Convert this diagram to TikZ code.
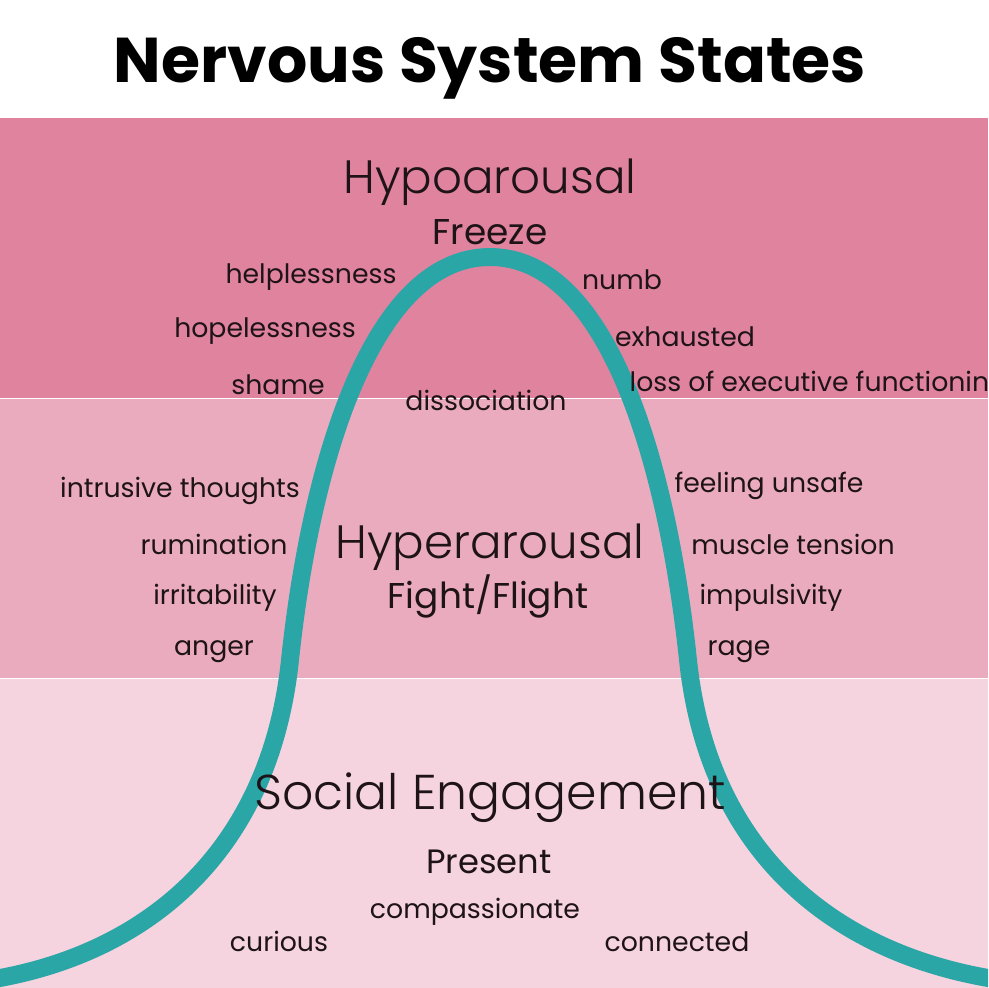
\documentclass[tikz,border=0pt]{standalone}
\usepackage{fontspec}
\setmainfont{Poppins}
\newfontfamily\headfont{Poppins}[UprightFont=* Light]
\usetikzlibrary{positioning}

\definecolor{hypoband}{HTML}{E0839F}
\definecolor{hyperband}{HTML}{EBABBF}
\definecolor{socialband}{HTML}{F5D3DF}
\definecolor{curveteal}{HTML}{2AA6A6}
\definecolor{inktext}{HTML}{1E1418}

\begin{document}
\begin{tikzpicture}[
  x=0.01cm, y=-0.01cm,
  word/.style={text=inktext, inner sep=0pt, yshift=-1pt, font=\fontsize{7.6}{9}\selectfont},
  statehead/.style={text=inktext, inner sep=0pt, yshift=-1.3pt, font=\headfont\fontsize{13.3}{16}\selectfont},
  statesub/.style={text=inktext, inner sep=0pt, yshift=-0.8pt, font=\fontsize{10.2}{12}\selectfont}
]
% -------------------------------------------------------------------------
% BACKGROUND BANDS
% -------------------------------------------------------------------------
\useasboundingbox (0,0) rectangle (988,988);
\clip (0,0) rectangle (988,988);
\fill[white] (0,0) rectangle (988,988);
\fill[hypoband] (0,118) rectangle (988,397.5);
\fill[hyperband] (0,398.5) rectangle (988,677.5);
\fill[socialband] (0,678.5) rectangle (988,988);

% -------------------------------------------------------------------------
% TITLE
% -------------------------------------------------------------------------
\node[font=\bfseries\fontsize{18}{22}\selectfont, inner sep=0pt, yshift=-1.8pt] (title) at (490,62) {Nervous System States};

% -------------------------------------------------------------------------
% BELL CURVE
% -------------------------------------------------------------------------
\coordinate (bellpeak) at (490,257);
\draw[curveteal, line width=5.1pt, line cap=round]
  (-20,982) -- (0,978) .. controls (150,950) and (270,850) .. (290,660)
  .. controls (310,470) and (370,257) .. (bellpeak)
  .. controls (610,257) and (668,470) .. (688,660)
  .. controls (708,850) and (830,950) .. (988,978) -- (1008,982);

% -------------------------------------------------------------------------
% HYPOAROUSAL
% -------------------------------------------------------------------------
\node[statehead] (hypo) at (490,178) {Hypoarousal};
\node[statesub] (freeze) at (490,229) {Freeze};
\node[word] (helpless) at (311,274) {helplessness};
\node[word] (hopeless) at (265,328) {hopelessness};
\node[word] (shame) at (278,381) {shame};
\node[word] (numb) at (622,276) {numb};
\node[word] (exhausted) at (685,333) {exhausted};
\node[word, anchor=west] (execloss) at (629,381) {loss of executive functioning};
\node[word] (dissoc) at (486,397) {dissociation};

% -------------------------------------------------------------------------
% HYPERAROUSAL
% -------------------------------------------------------------------------
\node[statehead] (hyper) at (490,543) {Hyperarousal};
\node[statesub] (fight) at (488,594) {Fight/Flight};
\node[word] (intrusive) at (180,487) {intrusive thoughts};
\node[word] (rumination) at (214,541) {rumination};
\node[word] (irritable) at (215,594) {irritability};
\node[word] (anger) at (214,648) {anger};
\node[word] (unsafe) at (769,482) {feeling unsafe};
\node[word] (tension) at (793,541) {muscle tension};
\node[word] (impulse) at (771,594) {impulsivity};
\node[word] (rage) at (739,648) {rage};

% -------------------------------------------------------------------------
% SOCIAL ENGAGEMENT
% -------------------------------------------------------------------------
\node[statehead, font=\headfont\fontsize{13.9}{17}\selectfont] (social) at (490,793) {Social Engagement};
\node[statesub, font=\fontsize{9.6}{11}\selectfont] (present) at (489,859) {Present};
\node[word] (compassion) at (475,908) {compassionate};
\node[word] (curious) at (279,938) {curious};
\node[word] (connected) at (677,938) {connected};
\end{tikzpicture}
\end{document}
